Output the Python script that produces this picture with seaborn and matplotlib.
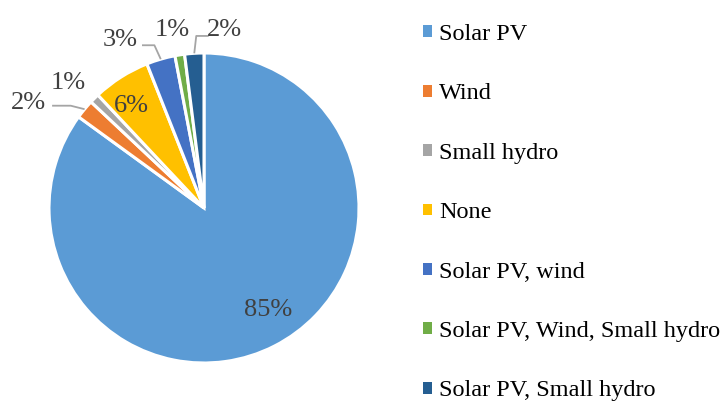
import numpy as np
import matplotlib
matplotlib.use("Agg")
import matplotlib.pyplot as plt
import matplotlib.patches as mpatches
import seaborn as sns

# --- DATA ---
categories = ["Solar PV", "Wind", "Small hydro", "None", "Solar PV, wind",
              "Solar PV, Wind, Small hydro", "Solar PV, Small hydro"]
shares = [85, 2, 1, 6, 3, 1, 2]
colors = ["#5B9BD5", "#ED7D31", "#A5A5A5", "#FFC000", "#4472C4", "#70AD47", "#255E91"]

# --- LAYOUT (label positions in pie units, radius = 1) ---
label_pos = [(0.413, -0.66), (-1.135, 0.680), (-0.877, 0.805), (-0.471, 0.655),
             (-0.542, 1.085), (-0.206, 1.150), (0.135, 1.150)]
# leader lines: (start x of horizontal part, elbow x, y) or None
leaders = [None, (-0.98, -0.86, 0.66), None, None,
           (-0.40, -0.32, 1.05), None, (0.03, -0.05, 1.11)]

sns.set_theme(style="white")
serif = ["Liberation Serif", "DejaVu Serif"]
plt.rcParams["font.family"] = serif

fig = plt.figure(figsize=(7.22, 4.03), dpi=100)
W, H = 722, 403
cx, cy, r = 204, 208, 155
ax = fig.add_axes([4 / W, 0, 400 / W, 1])

wedges, _ = ax.pie(shares, colors=colors, startangle=90, counterclock=False,
                   wedgeprops=dict(edgecolor="white", linewidth=2.2))
ax.set_xlim((4 - cx) / r, (404 - cx) / r)
ax.set_ylim(-(H - cy) / r, cy / r)
ax.axis("off")

for i, (w, val) in enumerate(zip(wedges, shares)):
    lx, ly = label_pos[i]
    ax.text(lx, ly, f"{val}%", ha="center", va="center", fontsize=19,
            color="#404040", family=serif)
    if leaders[i] is not None:
        x0, x1, yl = leaders[i]
        mid = np.deg2rad((w.theta1 + w.theta2) / 2)
        ex, ey = np.cos(mid), np.sin(mid)
        ax.plot([x0, x1, ex], [yl, yl, ey], color="#A5A5A5", lw=1.3,
                solid_capstyle="butt", clip_on=False)

handles = [mpatches.Patch(facecolor=c, edgecolor="none") for c in colors]
fig.legend(handles, categories, loc="upper left", bbox_to_anchor=(423 / W, 1 - 24 / H),
           frameon=False, prop=dict(family=serif, size=17.5), labelspacing=1.58,
           handlelength=0.36, handleheight=0.36, handletextpad=0.3, borderpad=0,
           borderaxespad=0, labelcolor="#000000")

fig.savefig("out.png", dpi=100)
